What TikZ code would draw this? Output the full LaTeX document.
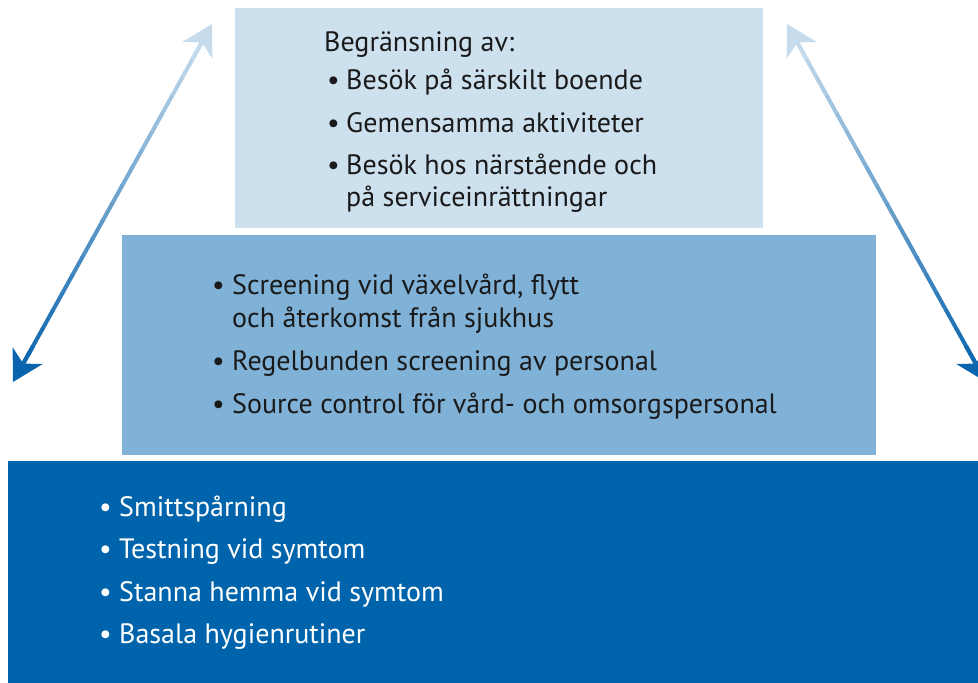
\documentclass[tikz,border=0pt]{standalone}
\usepackage{fontspec}
\setmainfont{PT Sans}
\usetikzlibrary{arrows.meta,calc}
\definecolor{lvlTop}{HTML}{CDE0EE}
\definecolor{lvlMid}{HTML}{80B1D7}
\definecolor{lvlBase}{HTML}{0064AC}
\definecolor{arrLight}{HTML}{C6DCEC}
\definecolor{arrDark}{HTML}{0A64AD}
\definecolor{ink}{HTML}{1A1A1A}

\begin{document}
\begin{tikzpicture}
    [   x=1pt,y=-1pt,
        box/.style={fill=#1,draw=none,inner sep=0pt,anchor=north west},
        txt/.style={anchor=base west,inner sep=0pt,text=#1,font=\fontsize{28}{33}\selectfont},
        tip/.style={-{Stealth[length=30pt,width=34pt,inset=9pt]}},
    ]
        \clip (0,0) rectangle (978,683);
        \node[box=lvlTop,minimum width=528pt,minimum height=220pt] (top) at (235,8) {};
        \node[box=lvlMid,minimum width=754pt,minimum height=220pt] (mid) at (122,235) {};
        \node[box=lvlBase,minimum width=990pt,minimum height=240pt] (base) at (8,461) {};
        % top level
        \node[txt=ink] (top-h) at (324,51) {Begränsning av:};
        \foreach \i/\y/\t in {1/89/{Besök på särskilt boende},2/132/{Gemensamma aktiviteter},3/174/{Besök hos närstående och}}
        {   \node[txt=ink] (top-d\i) at (327,\y) {•};
            \node[txt=ink] (top-\i) at (346,\y) {\t};
        }
        \node[txt=ink] (top-4) at (346,206) {på serviceinrättningar};
        % middle level
        \foreach \i/\y/\t in {1/294/{Screening vid växelvård, flytt},2/370/{Regelbunden screening av personal},3/413/{Source control för vård- och omsorgspersonal}}
        {   \node[txt=ink] (mid-d\i) at (212,\y) {•};
            \node[txt=ink] (mid-\i) at (232,\y) {\t};
        }
        \node[txt=ink] (mid-4) at (232,327) {och återkomst från sjukhus};
        % base level
        \foreach \i/\y/\t in {1/516/Smittspårning,2/558/{Testning vid symtom},3/601/{Stanna hemma vid symtom},4/643/{Basala hygienrutiner}}
        {   \node[txt=white] (base-d\i) at (99,\y) {•};
            \node[txt=white] (base-\i) at (119,\y) {\t};
        }
        % arrows
        \coordinate (la-t) at (212,24);
        \coordinate (la-b) at (13,382);
        \coordinate (ra-t) at (787,24);
        \coordinate (ra-b) at (986,382);
        \foreach \a in {la,ra}
        {   \draw[tip,line width=4pt,arrLight] ($(\a-t)!0.1!(\a-b)$) -- (\a-t);
            \draw[tip,line width=4pt,arrDark] ($(\a-t)!0.9!(\a-b)$) -- (\a-b);
            \foreach \i in {2,...,19}
            {   \pgfmathtruncatemacro\p{(\i-1.5)*100/18}
                \draw[line width=4pt,arrDark!\p!arrLight] ($(\a-t)!{(\i-1)/20}!(\a-b)$) -- ($(\a-t)!{(\i+0.05)/20}!(\a-b)$);
            }
        }
\end{tikzpicture}
\end{document}
